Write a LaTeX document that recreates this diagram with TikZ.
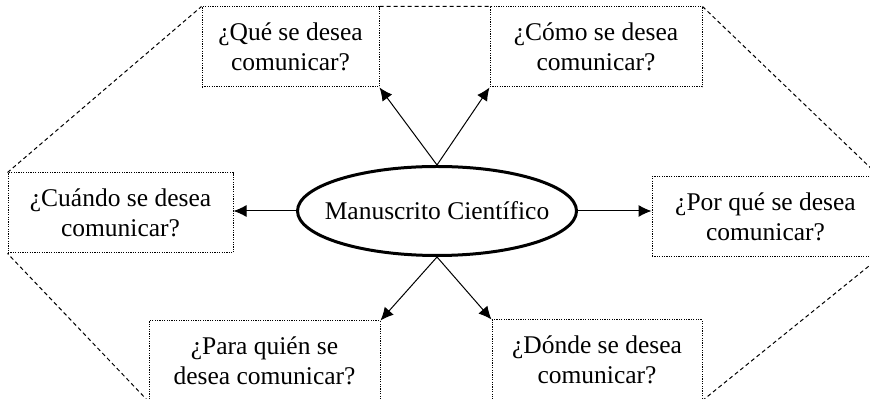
\documentclass[tikz,border=0pt]{standalone}
\usepackage{fontspec}
\setmainfont{Liberation Serif}
\usepackage{tikz}
\usetikzlibrary{positioning}
\usetikzlibrary{arrows.meta}
\usetikzlibrary{shapes.geometric}

\tikzset{
  caja/.style={draw,line width=0.5pt,dash pattern=on 0.6pt off 0.6pt,align=center,minimum height=40pt,inner sep=0pt},
  flecha/.style={line width=0.5pt,-{Latex[length=6.5pt,width=6pt]}},
  borde/.style={line width=0.5pt,dash pattern=on 2pt off 1.5pt}
}

\begin{document}
\begin{tikzpicture}[x=0.5pt,y=-0.5pt,font=\fontsize{12.75}{15}\selectfont]
  \useasboundingbox (0,0) rectangle (870,399);
  \node[draw,ellipse,line width=1.5pt,minimum width=139.5pt,minimum height=44.5pt,inner xsep=-6.9pt,inner ysep=0pt](manus) at (437,211) {Manuscrito Científico};
  \node[caja,minimum width=88.5pt](que) at (290.5,47) {¿Qué se desea\\comunicar?};
  \node[caja,minimum width=106pt](como) at (596,47) {¿Cómo se desea\\comunicar?};
  \node[caja,minimum width=112.5pt](cuando) at (120.5,213) {¿Cuándo se desea\\comunicar?};
  \node[caja,minimum width=113.5pt](porque) at (765.5,217) {¿Por qué se desea\\comunicar?};
  \node[caja,minimum width=115.5pt](quien) at (264.5,361) {¿Para quién se\\desea comunicar?};
  \node[caja,minimum width=105pt](donde) at (597,360) {¿Dónde se desea\\comunicar?};
  \draw[borde] (cuando.north west) -- (que.north west)
    (que.north east) -- (como.north west)
    (como.north east) -- (porque.north east)
    (porque.south east) -- (donde.south east)
    (quien.south west) -- (cuando.south west);
  \draw[flecha] (manus.north) -- (que.south east);
  \draw[flecha] (manus.north) -- (como.south west);
  \draw[flecha] (manus.west) -- (manus.west -| cuando.east);
  \draw[flecha] (manus.east) -- (manus.east -| porque.west);
  \draw[flecha] (manus.south) -- (quien.north east);
  \draw[flecha] (manus.south) -- (donde.north west);
\end{tikzpicture}
\end{document}
